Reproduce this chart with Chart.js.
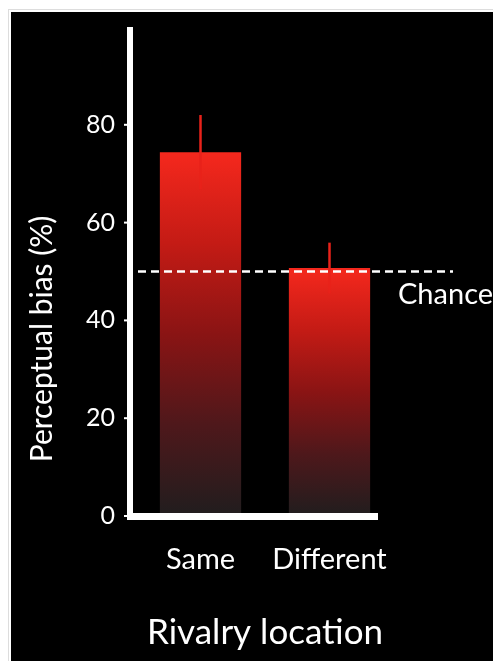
<!DOCTYPE html>
<html>
<head>
<meta charset="utf-8">
<script src="https://cdn.jsdelivr.net/npm/chart.js@4/dist/chart.umd.min.js"></script>
<style>
  html, body { margin: 0; padding: 0; background: #fff; }
  #wrap { position: absolute; left: 11px; top: 12px; width: 482px; height: 649px; background: #000; outline: 1px solid #ddd; outline-offset: 2px; }
</style>
</head>
<body>
<div id="wrap"><canvas id="biasChart" width="482" height="649"></canvas></div>
<script>
const categories = ["Same", "Different"];
const biasValues = [74.4, 50.7];
const biasErrors = [7.6, 5.2];
const chanceLevel = 50;
const yTicks = [0, 20, 40, 60, 80];

const FONT = "Lato, 'Open Sans', sans-serif";

function barGradient(ctx) {
  const chart = ctx.chart;
  if (!chart.chartArea || !ctx.parsed) return "#e8231b";
  const y = chart.scales.y;
  const top = y.getPixelForValue(ctx.parsed.y);
  const bottom = y.getPixelForValue(0);
  const g = chart.ctx.createLinearGradient(0, top, 0, bottom);
  g.addColorStop(0, "#f5281d");
  g.addColorStop(0.25, "#c41b15");
  g.addColorStop(0.5, "#8a1414");
  g.addColorStop(0.75, "#4e181b");
  g.addColorStop(1, "#211d1e");
  return g;
}

// axis lines, tick marks, error bars, chance line and y title
const decorations = {
  id: "decorations",
  afterDatasetsDraw(chart) {
    const { ctx, chartArea, scales } = chart;
    const x = scales.x, y = scales.y;
    ctx.save();

    // error bars
    ctx.strokeStyle = "#e8221a";
    ctx.lineWidth = 2.5;
    biasValues.forEach((v, i) => {
      const px = x.getPixelForValue(i);
      ctx.beginPath();
      ctx.moveTo(px, y.getPixelForValue(v - biasErrors[i]));
      ctx.lineTo(px, y.getPixelForValue(v + biasErrors[i]));
      ctx.stroke();
    });

    // axes
    ctx.fillStyle = "#fff";
    const axisX = chartArea.left - 9;
    ctx.fillRect(axisX, chartArea.top, 6, chartArea.bottom - chartArea.top + 4);
    ctx.fillRect(axisX, chartArea.bottom - 3, chartArea.right - 16 - axisX, 7);
    y.ticks.forEach(t => {
      const py = y.getPixelForValue(t.value);
      ctx.fillRect(axisX - 3, py - 1, 3, 2);
    });

    // chance line
    const cy = y.getPixelForValue(chanceLevel);
    ctx.strokeStyle = "#fff";
    ctx.lineWidth = 2.5;
    ctx.setLineDash([8, 5]);
    ctx.beginPath();
    ctx.moveTo(chartArea.left + 2, cy);
    ctx.lineTo(chartArea.right + 59, cy);
    ctx.stroke();
    ctx.setLineDash([]);

    ctx.font = "29px " + FONT;
    ctx.textAlign = "left";
    ctx.textBaseline = "middle";
    ctx.fillText("Chance", chartArea.right + 4, cy + 23);

    // y title
    ctx.translate(31, 327);
    ctx.rotate(-Math.PI / 2);
    ctx.textAlign = "center";
    ctx.font = "30px " + FONT;
    ctx.fillText("Perceptual bias (%)", 0, 0);
    ctx.restore();
  }
};

new Chart(document.getElementById("biasChart"), {
  type: "bar",
  data: {
    labels: categories,
    datasets: [{
      data: biasValues,
      backgroundColor: barGradient,
      barPercentage: 0.63,
      categoryPercentage: 1
    }]
  },
  options: {
    responsive: false,
    animation: false,
    layout: { padding: { top: 15, right: 99, left: 0, bottom: 0 } },
    plugins: { legend: { display: false }, tooltip: { enabled: false } },
    scales: {
      x: {
        grid: { display: false, drawTicks: false },
        border: { display: false },
        ticks: { color: "#fff", font: { family: FONT, size: 29 }, padding: 26 },
        title: {
          display: true,
          text: "Rivalry location",
          color: "#fff",
          font: { family: FONT, size: 35 },
          padding: { top: 0, bottom: 7 }
        },
        afterFit(scale) {
          scale.height = 145;
          scale.paddingLeft = 0;
          scale.paddingRight = 0;
        }
      },
      y: {
        min: 0,
        max: 100,
        grid: { display: false, drawTicks: false },
        border: { display: false },
        ticks: { color: "#fff", font: { family: FONT, size: 25 }, padding: 21 },
        afterBuildTicks(scale) { scale.ticks = yTicks.map(v => ({ value: v })); },
        afterFit(scale) {
          scale.width = 125;
          scale.paddingTop = 0;
          scale.paddingBottom = 0;
        }
      }
    }
  },
  plugins: [decorations]
});
</script>
</body>
</html>
